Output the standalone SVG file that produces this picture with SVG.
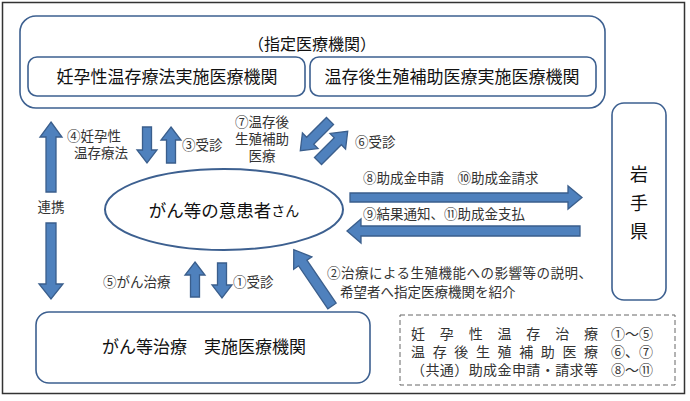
<svg xmlns="http://www.w3.org/2000/svg" width="690" height="401" viewBox="0 0 690 401">
<style>
.box{fill:#fff;stroke:#3d6090;stroke-width:1.6}
.arr{fill:#4f81bd;stroke:#3a5e8c;stroke-width:1.3;stroke-linejoin:miter}
.t{font-family:"Liberation Sans","Noto Sans CJK JP",sans-serif;fill:#111;dominant-baseline:central}
.big{font-size:17px}
.lbl{font-family:"Liberation Sans","Noto Sans CJK JP",sans-serif;fill:#333;font-size:13.5px;dominant-baseline:central}
.leg{font-family:"Liberation Sans","Noto Sans CJK JP",sans-serif;fill:#333;font-size:14px;dominant-baseline:central}
</style>
<rect x="0" y="0" width="690" height="401" fill="#fff"/>
<rect x="2.5" y="2.5" width="682" height="391" fill="none" stroke="#333" stroke-width="1.5"/>

<g id="designated">
  <rect class="box" x="20" y="16" width="585" height="92" rx="16"/>
  <text class="t" x="312" y="44" font-size="16" text-anchor="middle">（指定医療機関）</text>
</g>
<g id="fertility-preservation">
  <rect class="box" x="28" y="57" width="277" height="39" rx="9"/>
  <text class="t big" x="167" y="77" text-anchor="middle">妊孕性温存療法実施医療機関</text>
</g>
<g id="assisted-reproduction">
  <rect class="box" x="310" y="57" width="286" height="39" rx="9"/>
  <text class="t big" x="452" y="77" text-anchor="middle">温存後生殖補助医療実施医療機関</text>
</g>
<g id="prefecture">
  <rect class="box" x="612" y="103" width="54" height="197" rx="12"/>
  <text class="t" x="639" y="175" font-size="18" text-anchor="middle">岩</text>
  <text class="t" x="639" y="204" font-size="18" text-anchor="middle">手</text>
  <text class="t" x="639" y="232" font-size="18" text-anchor="middle">県</text>
</g>
<g id="patient">
  <ellipse cx="224" cy="209.5" rx="119" ry="40.5" fill="#fff" stroke="#3d6090" stroke-width="2"/>
  <text class="t" x="224" y="211" text-anchor="middle"><tspan font-size="17.5">がん等の意患者</tspan><tspan font-size="14">さん</tspan></text>
</g>
<g id="cancer-treatment">
  <rect class="box" x="36" y="312" width="334" height="71" rx="13"/>
  <text class="t big" x="204" y="347" text-anchor="middle">がん等治療　実施医療機関</text>
</g>
<g id="legend">
  <rect x="400" y="315" width="275" height="70" fill="none" stroke="#666" stroke-width="1" stroke-dasharray="5,3"/>
  <text class="leg" x="411" y="334" textLength="187" lengthAdjust="spacing">妊孕性温存治療</text>
  <text class="leg" x="411" y="352" textLength="187" lengthAdjust="spacing">温存後生殖補助医療</text>
  <text class="leg" x="411" y="370" textLength="187" lengthAdjust="spacing">（共通）助成金申請・請求等</text>
  <text class="leg" x="611" y="334">①～⑤</text>
  <text class="leg" x="611" y="352">⑥、⑦</text>
  <text class="leg" x="611" y="370">⑧～⑪</text>
</g>

<g id="connectors">
  <!-- 連携 -->
  <polygon class="arr" points="51,122 62,137 56,137 56,192 46,192 46,137 40,137"/>
  <polygon class="arr" points="46,223 56,223 56,284 63,284 51,299 39,284 46,284"/>
  <text class="lbl" x="51" y="207" text-anchor="middle">連携</text>
  <!-- ④ ③ -->
  <polygon class="arr" points="142.5,127 151.5,127 151.5,150 157,150 147,163 137,150 142.5,150"/>
  <polygon class="arr" points="171,127 181,140 175.5,140 175.5,163 166.5,163 166.5,140 161,140"/>
  <text class="lbl" x="67" y="136">④妊孕性</text>
  <text class="lbl" x="74" y="153">温存療法</text>
  <text class="lbl" x="182" y="145">③受診</text>
  <!-- ⑦ ⑥ -->
  <polygon class="arr" transform="translate(330,121) rotate(135)" points="0,-5 28,-5 28,-11 42,0 28,11 28,5 0,5"/>
  <polygon class="arr" transform="translate(318,161) rotate(-45)" points="0,-5 28,-5 28,-11 42,0 28,11 28,5 0,5"/>
  <text class="lbl" x="262" y="122" text-anchor="middle">⑦温存後</text>
  <text class="lbl" x="262" y="139" text-anchor="middle">生殖補助</text>
  <text class="lbl" x="262" y="156" text-anchor="middle">医療</text>
  <text class="lbl" x="355" y="142">⑥受診</text>
  <!-- ⑧⑩ / ⑨⑪ -->
  <polygon class="arr" points="350,193 568,193 568,186 582,197.5 568,209 568,202 350,202"/>
  <polygon class="arr" points="580,226 361,226 361,219 347,231 361,243 361,236 580,236"/>
  <text class="lbl" x="363" y="178">⑧助成金申請　⑩助成金請求</text>
  <text class="lbl" x="363" y="214">⑨結果通知、⑪助成金支払</text>
  <!-- ⑤ ① -->
  <polygon class="arr" points="195,262 205,275 199.5,275 199.5,297 190.5,297 190.5,275 185,275"/>
  <polygon class="arr" points="217.5,263 226.5,263 226.5,285 232,285 222,298 212,285 217.5,285"/>
  <text class="lbl" x="103" y="282">⑤がん治療</text>
  <text class="lbl" x="233" y="282">①受診</text>
  <!-- ② -->
  <polygon class="arr" transform="translate(332,306) rotate(-124.2)" points="0,-5 52,-5 52,-11 68,0 52,11 52,5 0,5"/>
  <text class="lbl" x="327" y="273" textLength="265" lengthAdjust="spacing">②治療による生殖機能への影響等の説明、</text>
  <text class="lbl" x="340" y="292">希望者へ指定医療機関を紹介</text>
</g>
</svg>
